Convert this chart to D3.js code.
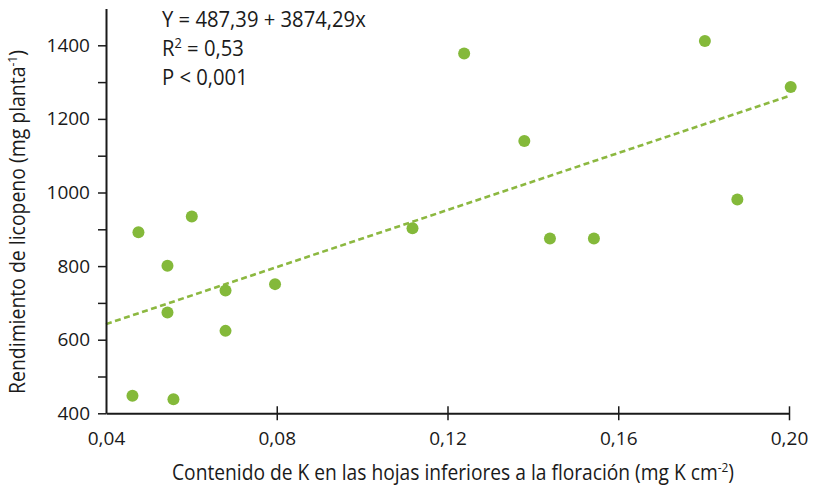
<!DOCTYPE html>
<html><head><meta charset="utf-8">
<script src="https://cdn.jsdelivr.net/npm/d3@7"></script>
<style>
body{margin:0;background:#fff;}
text{font-family:"Open Sans",sans-serif;fill:#1a1a1a;}
</style></head>
<body><svg id="c" width="813" height="488"></svg>
<script>
const kValues = [0.0462,0.0558,0.0544,0.0544,0.0680,0.0680,0.0796,0.0476,0.0601,0.1118,0.1239,0.1380,0.1440,0.1543,0.1803,0.1879,0.2004];
const licopeno = [448,438,801,674,734,624,751,892,935,903,1378,1140,875,875,1412,981,1287];
const xTicks = [0.04,0.08,0.12,0.16,0.20];
const yTicks = [400,600,800,1000,1200,1400];
const yMinorTicks = [500,700,900,1100,1300];
const fitIntercept = 487.39, fitSlope = 3874.29;
const fitRange = [0.04, 0.20];
const annotations = ["Y = 487,39 + 3874,29x", "R2 = 0,53", "P < 0,001"];

const svg = d3.select("#c");
const x = d3.scaleLinear().domain([0.04,0.20]).range([106,789]);
const y = d3.scaleLinear().domain([400,1500]).range([413.3,8.5]);
const fmt = d => d3.format(".2f")(d).replace(".",",");
const green = "#84b93a";

// fit line
svg.append("line")
  .attr("x1", x(fitRange[0])).attr("y1", y(fitIntercept+fitSlope*fitRange[0]))
  .attr("x2", x(fitRange[1])).attr("y2", y(fitIntercept+fitSlope*fitRange[1]))
  .attr("stroke", "#8cb840").attr("stroke-width", 2.6).attr("stroke-dasharray","6,3.5");

// points
svg.selectAll("circle").data(kValues).enter().append("circle")
  .attr("cx", d=>x(d)).attr("cy", (d,i)=>y(licopeno[i])).attr("r", 6).attr("fill", green);

// y axis
const ya = svg.append("g").attr("transform","translate(106,0)")
  .call(d3.axisLeft(y).tickValues(yTicks.concat(yMinorTicks)).tickSize(8).tickSizeOuter(0)
    .tickFormat(d => yTicks.includes(d) ? d : ""));
ya.select(".domain").attr("stroke","#1a1a1a").attr("stroke-width",2);
ya.selectAll(".tick line").attr("stroke","#1a1a1a").attr("stroke-width",1.5);
ya.selectAll(".tick text").attr("x",-16).style("font-size","19px").attr("fill","#1a1a1a");

// x axis
const xa = svg.append("g").attr("transform","translate(0,413.3)")
  .call(d3.axisBottom(x).tickValues(xTicks).tickSize(7).tickSizeOuter(0).tickFormat(fmt));
xa.select(".domain").attr("stroke","#1a1a1a").attr("stroke-width",2);
xa.selectAll(".tick line").attr("stroke","#1a1a1a").attr("stroke-width",1.5).attr("y1",-7);
xa.selectAll(".tick line").filter(d=>d===0.04).remove();
xa.selectAll(".tick text").attr("y",18).style("font-size","19px").attr("fill","#1a1a1a");

// annotations
const ann = svg.append("g").style("font-size","22px");
ann.append("text").attr("transform","translate(162,27) scale(0.92,1)").text(annotations[0]);
const r2 = ann.append("text").attr("transform","translate(162,56) scale(0.92,1)");
r2.append("tspan").text("R");
r2.append("tspan").attr("dy",-8).style("font-size","14px").text("2");
r2.append("tspan").attr("dy",8).text(" = 0,53");
ann.append("text").attr("transform","translate(162,85) scale(0.92,1)").text(annotations[2]);

// x title
const xt = svg.append("text").attr("transform","translate(453,480) scale(0.915,1)").attr("text-anchor","middle").style("font-size","21px");
xt.append("tspan").text("Contenido de K en las hojas inferiores a la floración (mg K cm");
xt.append("tspan").attr("dy",-8).style("font-size","13px").text("-2");
xt.append("tspan").attr("dy",8).text(")");

// y title
const yt = svg.append("text").attr("transform","translate(25,222) rotate(-90) scale(0.925,1)").attr("text-anchor","middle").style("font-size","21px");
yt.append("tspan").text("Rendimiento de licopeno (mg planta");
yt.append("tspan").attr("dy",-8).style("font-size","13px").text("-1");
yt.append("tspan").attr("dy",8).text(")");
</script></body></html>
